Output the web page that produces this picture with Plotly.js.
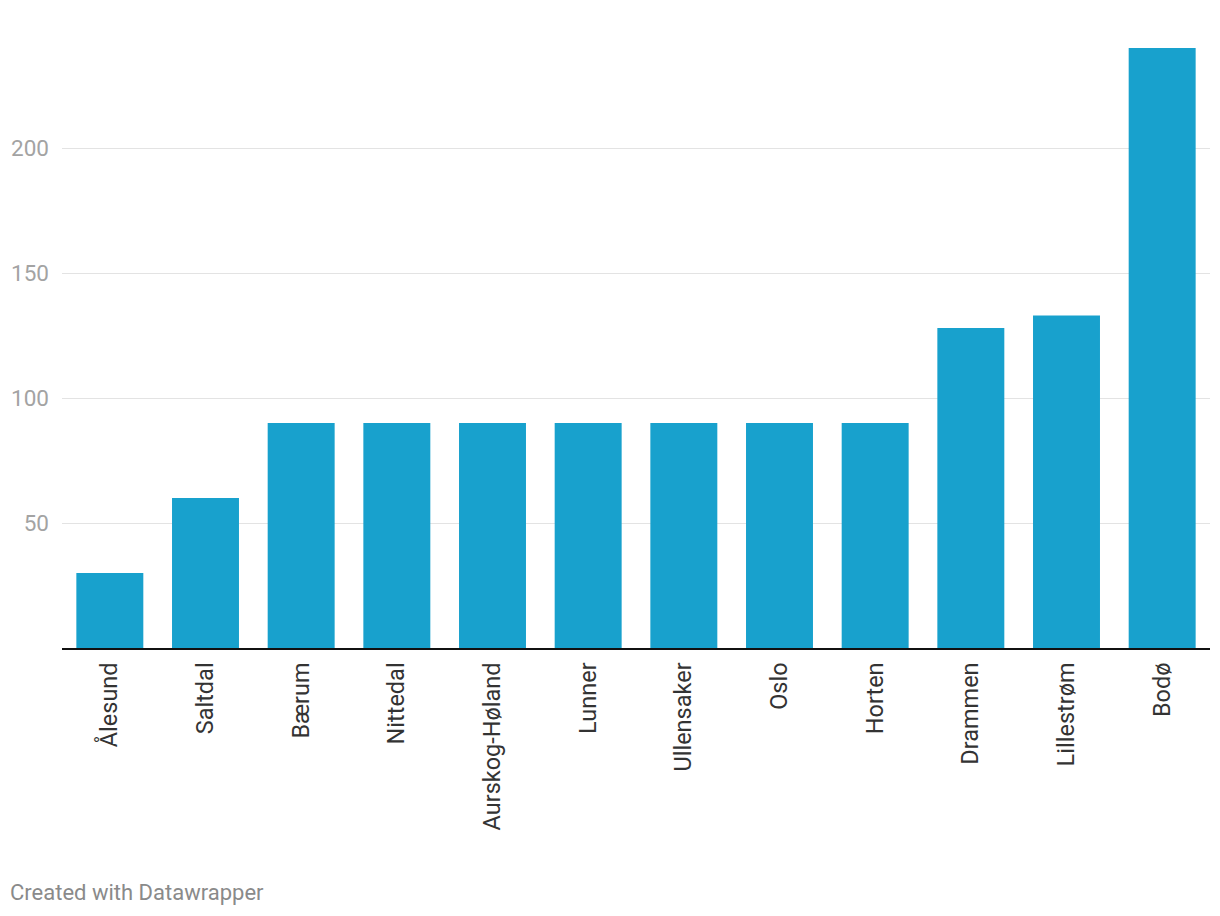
<!DOCTYPE html>
<html>
<head>
<meta charset="utf-8">
<script src="https://cdn.plot.ly/plotly-3.0.1.min.js"></script>
<style>
html,body{margin:0;padding:0;background:#fff;}
#chart{width:1220px;height:916px;}
</style>
</head>
<body>
<div id="chart"></div>
<script>
const categories = ["Ålesund","Saltdal","Bærum","Nittedal","Aurskog-Høland","Lunner","Ullensaker","Oslo","Horten","Drammen","Lillestrøm","Bodø"];
const values = [30, 60, 90, 90, 90, 90, 90, 90, 90, 128, 133, 240];
const yTicks = [50, 100, 150, 200];
const yTickLabels = ["50", "100", "150", "200"];

const trace = {
  type: "bar",
  x: categories,
  y: values,
  marker: {color: "#18a1cd"},
  hoverinfo: "x+y"
};

const layout = {
  width: 1220,
  height: 916,
  margin: {l: 62, r: 10, t: 23, b: 268},
  paper_bgcolor: "#fff",
  plot_bgcolor: "#fff",
  bargap: 0.3,
  showlegend: false,
  font: {family: "Roboto, sans-serif"},
  xaxis: {
    type: "category",
    range: [-0.5, 11.5],
    tickangle: -90,
    tickfont: {size: 23.5, color: "#333"},
    showline: true,
    linecolor: "#111",
    linewidth: 2,
    ticks: "",
    showgrid: false,
    zeroline: false,
    ticklabelstandoff: 3
  },
  yaxis: {
    range: [0, 250],
    tickvals: yTicks,
    ticktext: yTickLabels,
    tickfont: {size: 22.5, color: "#a3a3a3"},
    showgrid: true,
    gridcolor: "#e3e3e3",
    gridwidth: 1,
    zeroline: false,
    showline: false,
    ticks: "",
    ticklabelstandoff: 12
  },
  annotations: [{
    text: "Created with Datawrapper",
    xref: "paper", yref: "paper",
    x: 0, y: 0,
    xanchor: "left", yanchor: "middle",
    xshift: -54, yshift: -244,
    showarrow: false,
    font: {size: 22, color: "#8a8a8a", family: "Roboto, sans-serif"}
  }]
};

Plotly.newPlot("chart", [trace], layout, {displayModeBar: false, staticPlot: true});
</script>
</body>
</html>
